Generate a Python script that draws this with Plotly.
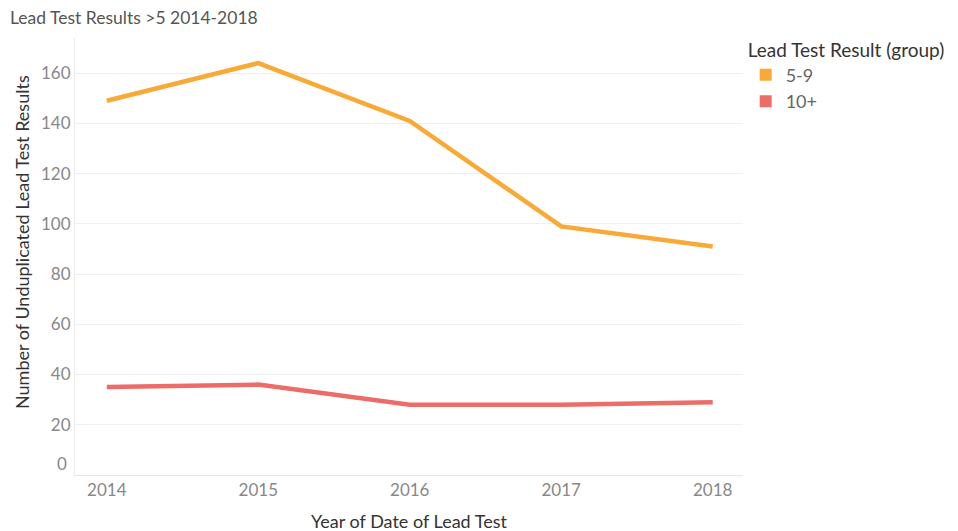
import plotly.graph_objects as go

years = [2014, 2015, 2016, 2017, 2018]
group_5_9 = [149, 164, 141, 99, 91]
group_10_plus = [35, 36, 28, 28, 29]
y_ticks = [20, 40, 60, 80, 100, 120, 140, 160]

orange = "#F9A935"
red = "#EC6C68"
font_family = "Lato, 'Open Sans', sans-serif"

# page body has an 8px margin, so offsets are compensated
L, T = 67, 30
W, H = 958, 531
R = W - 735
B = H - 467
plot_w = W - L - R
plot_h = H - T - B

fig = go.Figure()
fig.add_trace(go.Scatter(x=years, y=group_5_9, mode="lines", line=dict(color=orange, width=4.5),
                         showlegend=False, name="5-9"))
fig.add_trace(go.Scatter(x=years, y=group_10_plus, mode="lines", line=dict(color=red, width=4.5),
                         showlegend=False, name="10+"))
for name, col in [("5-9", orange), ("10+", red)]:
    fig.add_trace(go.Scatter(x=[None], y=[None], mode="markers", name=name,
                             marker=dict(symbol="square", size=11, color=col)))

fig.update_layout(
    width=W, height=H,
    margin=dict(l=L, r=R, t=T, b=B, autoexpand=False),
    plot_bgcolor="white", paper_bgcolor="white",
    font=dict(family=font_family, color="#777777"),
    legend=dict(x=1.004, y=1.014, xanchor="left", yanchor="top",
                title=dict(text="Lead Test Result (group)", font=dict(size=19, color="#333333")),
                font=dict(size=18, color="#666666"), tracegroupgap=0, itemsizing="constant"),
    xaxis=dict(range=[2013.79, 2018.2], tickvals=years, ticktext=[str(y) for y in years],
               showgrid=False, zeroline=False, showline=True, linecolor="#e6e6e6",
               tickfont=dict(size=17, color="#888888"), ticks="", automargin=False,
               title=dict(text="Year of Date of Lead Test", font=dict(size=18, color="#333333"), standoff=15)),
    yaxis=dict(range=[0, 174], tickvals=y_ticks, showgrid=True, gridcolor="#f0f0f0",
               zeroline=False, showline=True, linecolor="#ececec", ticks="", automargin=False,
               tickfont=dict(size=17, color="#888888")),
)
# y-axis title (placed like the reference, slightly above the plot centre)
fig.add_annotation(x=-(L - 14) / plot_w, y=1 - (234 - T) / plot_h, xref="paper", yref="paper",
                   text="Number of Unduplicated Lead Test Results", textangle=-90,
                   showarrow=False, xanchor="center", yanchor="middle",
                   font=dict(size=18, color="#333333"))
fig.add_annotation(x=-L / plot_w, y=1 + (T - 10) / plot_h, xref="paper", yref="paper",
                   text="Lead Test Results >5 2014-2018",
                   showarrow=False, xanchor="left", yanchor="middle",
                   font=dict(size=17.5, color="#555555"))
fig.add_annotation(x=0, y=0, xref="paper", yref="y", text="0", showarrow=False,
                   xanchor="right", xshift=-6, yshift=12, font=dict(size=17, color="#888888"))

fig.write_html("out.html")
